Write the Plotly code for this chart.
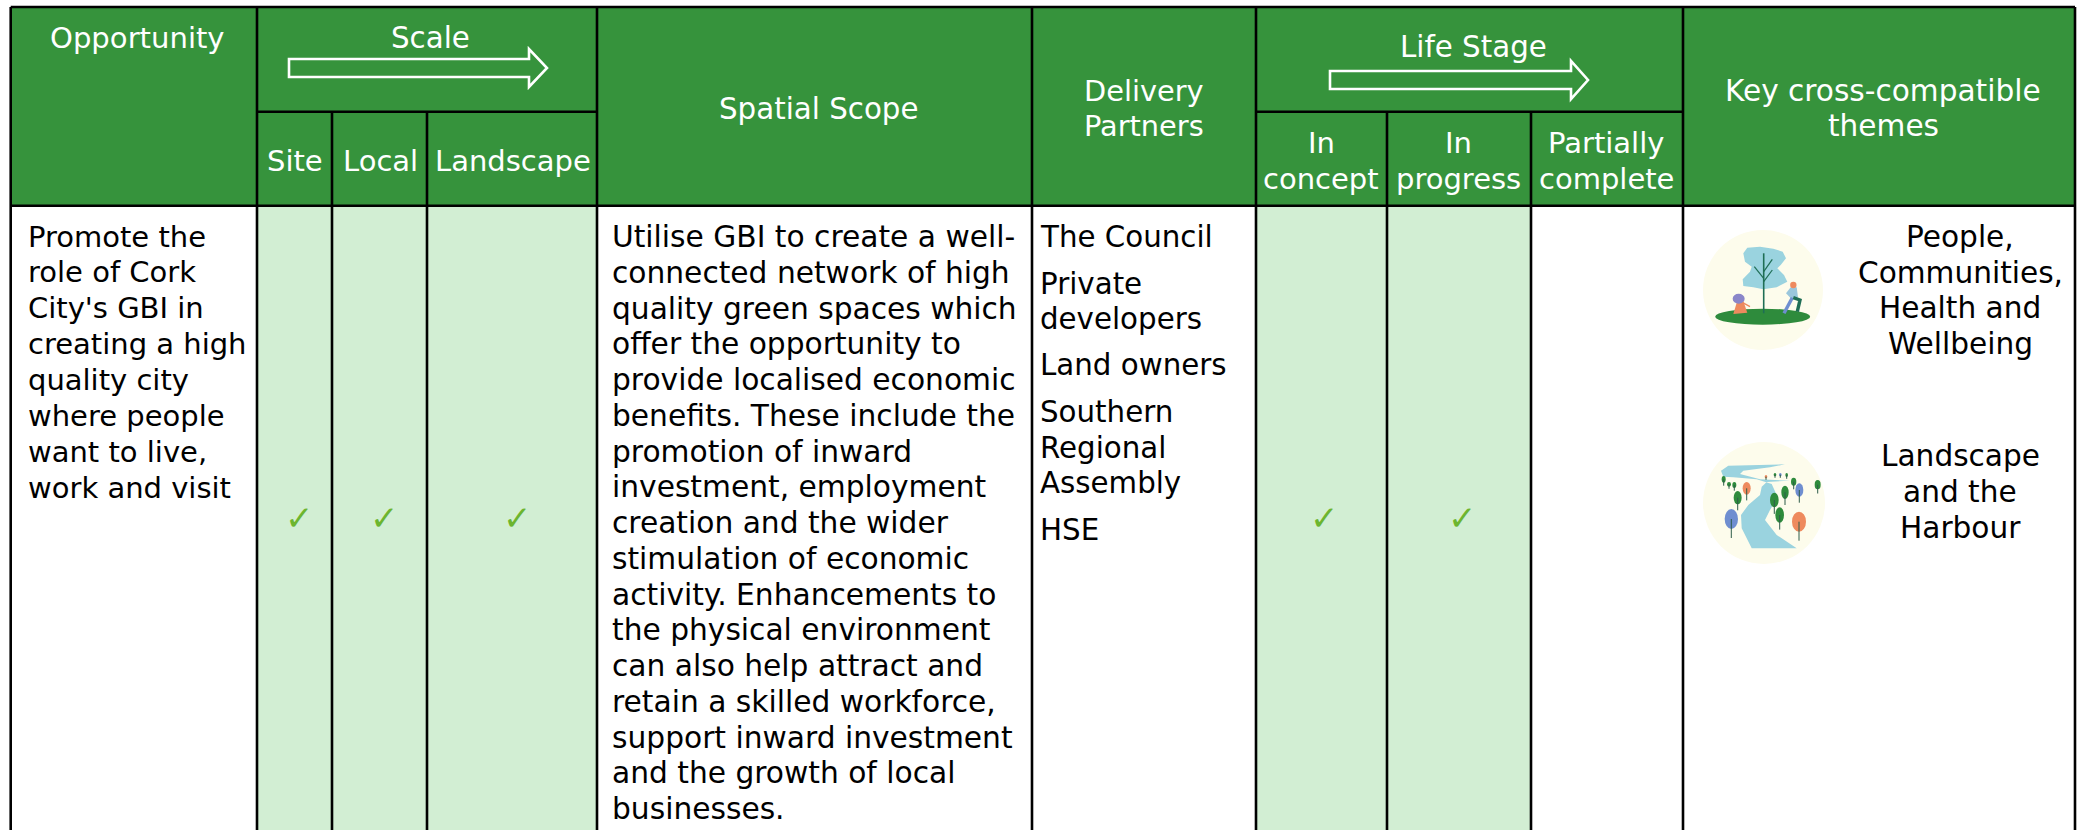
import plotly.graph_objects as go

# ---- table content -------------------------------------------------
col_edges = [10.7, 257, 332, 427, 597, 1032, 1256, 1387, 1531, 1683, 2075]
header_top, header_split, header_bottom, table_bottom = 7, 111.7, 205.7, 830

opportunity_lines = ["Promote the", "role of Cork", "City's GBI in", "creating a high", "quality city",
                     "where people", "want to live,", "work and visit"]
scope_lines = ["Utilise GBI to create a well-", "connected network of high", "quality green spaces which",
               "offer the opportunity to", "provide localised economic", "benefits. These include the",
               "promotion of inward", "investment, employment", "creation and the wider",
               "stimulation of economic", "activity. Enhancements to", "the physical environment",
               "can also help attract and", "retain a skilled workforce,", "support inward investment",
               "and the growth of local", "businesses."]
partner_lines = [("The Council", 236.5), ("Private", 283.5), ("developers", 319), ("Land owners", 365),
                 ("Southern", 412), ("Regional", 447.5), ("Assembly", 483), ("HSE", 530)]
theme_lines = [("People,", 236.5), ("Communities,", 272.5), ("Health and", 308), ("Wellbeing", 344),
               ("Landscape", 456), ("and the", 492), ("Harbour", 527.5)]
header_labels = [("Opportunity", 137, 38, 29.1), ("Scale", 430, 38, 29.3), ("Spatial Scope", 818, 109, 29.3),
                 ("Delivery", 1144, 91, 28.8), ("Partners", 1144, 126, 28.8),
                 ("Site", 295, 161, 29), ("Local", 380, 161, 29), ("Landscape", 513, 161, 29),
                 ("Life Stage", 1473, 47, 29.3), ("In", 1321, 143, 29), ("concept", 1321, 179, 29),
                 ("In", 1458, 143, 29), ("progress", 1458, 179, 29),
                 ("Partially", 1606, 143, 29), ("complete", 1606, 179, 29),
                 ("Key cross-compatible", 1883, 91, 29.6), ("themes", 1883, 126, 29.6)]
tick_centres = [299, 384, 517, 1324, 1462]
tick_y = 518

GREEN, LIGHT, TICK, CREAM = "#36933c", "#d2eed3", "#6cb52f", "#fdfcec"
FONT = "DejaVu Sans"

shapes, ann = [], []
def rect(x0, y0, x1, y1, fill):
    shapes.append(dict(type="rect", x0=x0, x1=x1, y0=y0, y1=y1, fillcolor=fill, line_width=0, layer="below"))
def seg(x0, y0, x1, y1, w=2.6, c="black"):
    shapes.append(dict(type="line", x0=x0, x1=x1, y0=y0, y1=y1, line=dict(color=c, width=w)))
def path(d, fill="rgba(0,0,0,0)", line=None, w=1):
    shapes.append(dict(type="path", path=d, fillcolor=fill, line=dict(color=line or "rgba(0,0,0,0)", width=w if line else 0)))
def circ(cx, cy, rx, ry, fill):
    shapes.append(dict(type="circle", x0=cx-rx, x1=cx+rx, y0=cy-ry, y1=cy+ry, fillcolor=fill, line_width=0))
def text(t, x, y, color="black", anchor="left", size=29):
    ann.append(dict(text=t, x=x, y=y, xref="x", yref="y", showarrow=False, xanchor=anchor, yanchor="middle",
                    font=dict(family=FONT, size=size, color=color), borderpad=0, borderwidth=0))

# fills
rect(col_edges[0], header_top, col_edges[-1], header_bottom, GREEN)
for i in (1, 2, 3, 6, 7):
    rect(col_edges[i], header_bottom, col_edges[i+1], table_bottom, LIGHT)

# grid
seg(col_edges[0], header_top, col_edges[-1], header_top)
seg(col_edges[0], header_bottom, col_edges[-1], header_bottom)
seg(col_edges[1], header_split, col_edges[4], header_split)
seg(col_edges[6], header_split, col_edges[9], header_split)
for i, x in enumerate(col_edges):
    top = header_split if i in (2, 3, 7, 8) else header_top
    seg(x, top, x, table_bottom)

# arrows
def arrow(x0, x1, xh, ytop, yst, ymid, ysb, ybot):
    path(f"M{x0},{yst} L{xh},{yst} L{xh},{ytop} L{x1},{ymid} L{xh},{ybot} L{xh},{ysb} L{x0},{ysb} Z", line="white", w=2.6)
arrow(289, 547, 529, 49, 59, 68, 77, 87)
arrow(1330, 1588, 1571, 61, 71, 80, 89, 99)

# text
for t, x, y, s in header_labels:
    text(t, x, y, "white", "center", s)
for i, t in enumerate(opportunity_lines):
    text(t, 27.5, 236.5 + i * 35.9, size=29)
for i, t in enumerate(scope_lines):
    text(t, 612, 236.5 + i * 35.75, size=29.7)
for t, y in partner_lines:
    text(t, 1040, y, size=29.3)
for t, y in theme_lines:
    text(t, 1960, y, anchor="center", size=29.6)
for x in tick_centres:
    text("\u2713", x, tick_y, TICK, "center", 34)

# icons (coordinates: crop px /3 from origin 1660,200)
X = lambda v: 1660 + v / 3
Y = lambda v: 200 + v / 3
def P(pts, close=True):
    d = f"M{X(pts[0][0]):.1f},{Y(pts[0][1]):.1f} "
    d += " ".join(f"L{X(a):.1f},{Y(b):.1f}" for a, b in pts[1:])
    return d + (" Z" if close else "")

BLUE, DARK, ORANGE, PURPLE, G2 = "#9ad3df", "#1f6e55", "#ee8a5e", "#6f8ed0", "#2e8b3c"
circ(1763, 290, 60, 60, CREAM)
circ(1764, 503, 61, 61, CREAM)
# tree, ground and people
path(P([(250,160),(262,143),(300,140),(340,146),(368,155),(378,175),(362,195),(352,205),(372,225),(382,245),
        (350,262),(310,268),(280,262),(250,258),(248,238),(270,215),(275,200),(255,185)]), BLUE)
circ(X(308), Y(350), 47.5, 8, G2)
path(P([(311,160),(311,340)], False), line=DARK, w=1.6)
path(P([(311,235),(283,200)], False), line=DARK, w=1.2)
path(P([(311,215),(337,178)], False), line=DARK, w=1.2)
path(P([(311,245),(337,210)], False), line=DARK, w=1.2)
path(P([(232,302),(250,302),(262,338),(220,342)]), ORANGE)
circ(X(236), Y(296), 6, 5, "#8a86c9")
path(P([(248,308),(270,320)], False), line=ORANGE, w=1.4)
path(P([(378,280),(392,262),(410,262),(414,292),(395,298)]), "#9ac6dc")
circ(X(400), Y(255), 3.2, 3.2, ORANGE)
path(P([(397,293),(372,340)], False), line=PURPLE, w=3.4)
path(P([(400,293),(420,300),(412,335)], False), line=DARK, w=3.4)

# river and trees
path(P([(183,812),(205,797),(375,793),(330,802),(250,812),(240,822),(300,838),(390,842),(320,846),(305,860),
        (300,885),(265,915),(243,945),(245,985),(275,1045),(410,1045),(350,1005),(315,960),(330,930),(345,905),(350,885),
        (335,852),(290,838),(220,832),(190,830)]), BLUE)
trees = [(191,838,6,10,G2),(207,853,6,7,G2),(223,855,6,9,G2),(233,893,12,20,G2),(260,865,12,19,ORANGE),
         (214,957,20,30,PURPLE),(343,900,13,22,G2),(375,877,11,20,G2),(418,870,12,20,PURPLE),(401,845,8,12,G2),
         (473,854,9,14,G2),(359,945,13,23,G2),(417,965,21,30,ORANGE),(318,830,4,5,ORANGE),(345,824,4,5,G2),
         (361,824,4,5,PURPLE),(380,825,4,6,G2)]
for x, y, rx, ry, c in trees:
    circ(X(x), Y(y), rx / 3, ry / 3, c)
    path(P([(x, y), (x, y + ry * 1.9)], False), line="#2f5d4a", w=1)

fig = go.Figure()
fig.update_layout(width=2083, height=830, margin=dict(l=0, r=0, t=0, b=0), paper_bgcolor="white", plot_bgcolor="white",
                  showlegend=False, shapes=shapes, annotations=ann,
                  xaxis=dict(range=[0, 2083], visible=False, fixedrange=True),
                  yaxis=dict(range=[830, 0], visible=False, fixedrange=True))
fig.write_html("out.html", config={"displayModeBar": False}, post_script="document.body.style.margin='0';document.body.style.overflow='hidden';")
